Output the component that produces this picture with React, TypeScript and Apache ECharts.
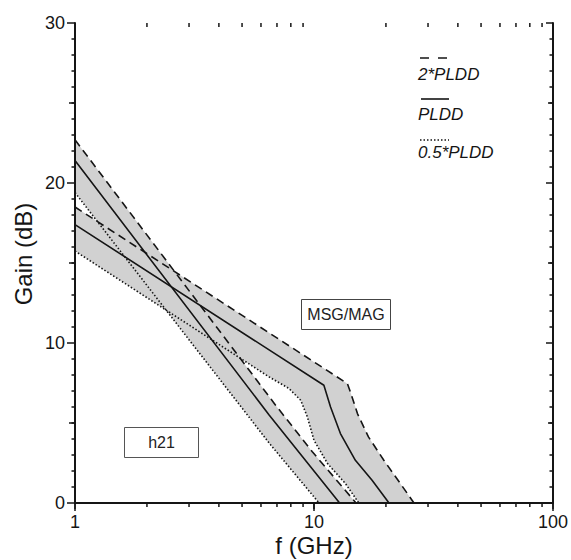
import React, { useEffect, useRef } from "react";
import * as echarts from "echarts";

// axis ticks
const xTickLabels = ["1", "10", "100"];
const xMinorTicks = [2, 3, 4, 5, 6, 7, 8, 9, 20, 30, 40, 50, 60, 70, 80, 90];
const yMidTicks = [5, 15, 25];

// curves: [frequency GHz, gain dB]
const h21Dashed = [[1, 22.7], [6.92, 6.1], [9.84, 3.2], [15.0, 0]];
const h21Solid = [[1, 21.4], [6.49, 5.5], [12.8, 0]];
const h21Dotted = [[1, 19.4], [6.49, 3.75], [10.5, 0]];
const msgDashed = [[1, 18.5], [13.8, 7.46], [14.2, 6.94], [15.2, 5.59], [16.9, 4.13], [19.6, 2.67], [23.0, 1.21], [26.2, 0]];
const msgSolid = [[1, 17.4], [11.0, 7.36], [11.73, 6.0], [12.9, 4.34], [14.9, 2.67], [17.5, 1.42], [20.6, 0]];
const msgDotted = [[1, 15.75], [6.49, 7.88], [7.87, 7.15], [8.8, 6.42], [9.38, 5.38], [10, 3.92], [11.4, 2.46], [13.55, 1.21], [15.4, 0]];

const legendLabels = ["2*PLDD", "PLDD", "0.5*PLDD"];
const boxLabels = ["MSG/MAG", "h21"];

const INK = "#151515";
const BAND = "#d1d1d1";
const FONT = "'Liberation Sans', Arial, sans-serif";
const DASH = [8, 5];
const DOT = [1.5, 2];

export default function App() {
  const ref = useRef<HTMLDivElement>(null);
  useEffect(() => {
    if (!ref.current) return;
    const chart = echarts.init(ref.current, undefined, { renderer: "svg" });
    const bands = [
      { upper: h21Dashed, lower: h21Dotted },
      { upper: msgDashed, lower: msgDotted },
    ];
    const lineSeries = (data: number[][], type: any) => ({
      type: "line",
      data,
      showSymbol: false,
      symbol: "none",
      silent: true,
      z: 5,
      lineStyle: { color: INK, width: 1.6, type },
    });
    const option: any = {
      animation: false,
      grid: { left: 75, right: 16, top: 23, bottom: 57 },
      xAxis: [
        {
          type: "log",
          logBase: 10,
          min: 1,
          max: 100,
          position: "bottom",
          z: 10,
          axisLine: { lineStyle: { color: INK, width: 2 } },
          axisTick: { length: 8, lineStyle: { color: INK, width: 1.5 } },
          axisLabel: {
            fontSize: 18,
            color: INK,
            fontFamily: FONT,
            margin: 10,
            formatter: (v: number) => xTickLabels[Math.round(Math.log10(v))] ?? "",
          },
          splitLine: { show: false },
        },
        {
          type: "log",
          logBase: 10,
          min: 1,
          max: 100,
          position: "top",
          z: 10,
          axisLine: { lineStyle: { color: INK, width: 2 } },
          axisTick: { inside: true, length: 6, lineStyle: { color: INK, width: 1.5 } },
          axisLabel: { show: false },
          splitLine: { show: false },
        },
      ],
      yAxis: [
        {
          type: "value",
          min: 0,
          max: 30,
          interval: 10,
          position: "left",
          z: 10,
          axisLine: { show: true, lineStyle: { color: INK, width: 2 } },
          axisTick: { show: true, length: 8, lineStyle: { color: INK, width: 1.5 } },
          minorTick: { show: true, splitNumber: 10, length: 3.5, lineStyle: { color: INK, width: 1.5 } },
          axisLabel: { fontSize: 18, color: INK, fontFamily: FONT, margin: 10 },
          splitLine: { show: false },
        },
        {
          type: "value",
          min: 0,
          max: 30,
          interval: 10,
          position: "right",
          z: 10,
          axisLine: { show: true, lineStyle: { color: INK, width: 2 } },
          axisTick: { show: true, inside: true, length: 7, lineStyle: { color: INK, width: 1.5 } },
          minorTick: { show: true, splitNumber: 10, length: 3.5, lineStyle: { color: INK, width: 1.5 } },
          axisLabel: { show: false },
          splitLine: { show: false },
        },
      ],
      series: [
        {
          type: "custom",
          silent: true,
          z: 1,
          data: bands.map(() => [1, 0]),
          renderItem: (params: any, api: any) => {
            const b = bands[params.dataIndex];
            const pts = [...b.upper, ...b.lower.slice().reverse()].map((p) => api.coord(p));
            return { type: "polygon", shape: { points: pts }, style: { fill: BAND, stroke: null } };
          },
        },
        lineSeries(h21Dashed, DASH),
        lineSeries(h21Solid, "solid"),
        lineSeries(h21Dotted, DOT),
        lineSeries(msgDashed, DASH),
        lineSeries(msgSolid, "solid"),
        lineSeries(msgDotted, DOT),
        {
          type: "custom",
          silent: true,
          z: 11,
          clip: false,
          data: xMinorTicks.map((v) => [v, 0]),
          renderItem: (params: any, api: any) => {
            const v = api.value(0);
            const b = api.coord([v, 0]);
            const t = api.coord([v, 30]);
            const st = { stroke: INK, lineWidth: 1.5 };
            return {
              type: "group",
              children: [
                { type: "line", shape: { x1: b[0], y1: b[1], x2: b[0], y2: b[1] + 4 }, style: st },
                { type: "line", shape: { x1: t[0], y1: t[1], x2: t[0], y2: t[1] + 4 }, style: st },
              ],
            };
          },
        },
        {
          type: "custom",
          silent: true,
          z: 11,
          clip: false,
          data: yMidTicks.map((v) => [1, v]),
          renderItem: (params: any, api: any) => {
            const v = api.value(1);
            const l = api.coord([1, v]);
            const r = api.coord([100, v]);
            const st = { stroke: INK, lineWidth: 1.5 };
            return {
              type: "group",
              children: [
                { type: "line", shape: { x1: l[0] - 6, y1: l[1], x2: l[0], y2: l[1] }, style: st },
                { type: "line", shape: { x1: r[0] - 5, y1: r[1], x2: r[0], y2: r[1] }, style: st },
              ],
            };
          },
        },
      ],
      graphic: [
        // axis titles
        {
          type: "text",
          x: 23,
          y: 254,
          rotation: Math.PI / 2,
          style: { text: "Gain (dB)", fontSize: 24, fontFamily: FONT, fill: INK, align: "center", verticalAlign: "middle" },
        },
        {
          type: "text",
          x: 314,
          y: 545,
          style: { text: "f (GHz)", fontSize: 24, fontFamily: FONT, fill: INK, align: "center", verticalAlign: "middle" },
        },
        // legend
        { type: "line", shape: { x1: 420, y1: 58, x2: 448, y2: 58 }, style: { stroke: INK, lineWidth: 1.6, lineDash: [9, 9] } },
        { type: "text", x: 418, y: 74, style: { text: legendLabels[0], fontSize: 17, fontStyle: "italic", fontFamily: FONT, fill: INK, align: "left", verticalAlign: "middle" } },
        { type: "line", shape: { x1: 421, y1: 99, x2: 449, y2: 99 }, style: { stroke: INK, lineWidth: 1.6 } },
        { type: "text", x: 418, y: 114.5, style: { text: legendLabels[1], fontSize: 17, fontStyle: "italic", fontFamily: FONT, fill: INK, align: "left", verticalAlign: "middle" } },
        { type: "line", shape: { x1: 420, y1: 140, x2: 449, y2: 140 }, style: { stroke: INK, lineWidth: 1.6, lineDash: DOT } },
        { type: "text", x: 418, y: 152, style: { text: legendLabels[2], fontSize: 17, fontStyle: "italic", fontFamily: FONT, fill: INK, align: "left", verticalAlign: "middle" } },
        // label boxes
        { type: "rect", shape: { x: 301.5, y: 299.5, width: 89, height: 30 }, style: { fill: "#fff", stroke: "#444", lineWidth: 1 } },
        { type: "text", x: 346, y: 314.5, style: { text: boxLabels[0], fontSize: 16, fontFamily: FONT, fill: "#222", align: "center", verticalAlign: "middle" } },
        { type: "rect", shape: { x: 124.5, y: 427.5, width: 74, height: 30 }, style: { fill: "#fff", stroke: "#555", lineWidth: 1 } },
        { type: "text", x: 161.5, y: 442.5, style: { text: boxLabels[1], fontSize: 16, fontFamily: FONT, fill: "#222", align: "center", verticalAlign: "middle" } },
      ],
    };
    chart.setOption(option);
    return () => chart.dispose();
  }, []);
  return <div ref={ref} style={{ position: "absolute", left: 0, top: 0, width: 571, height: 560 }} />;
}
